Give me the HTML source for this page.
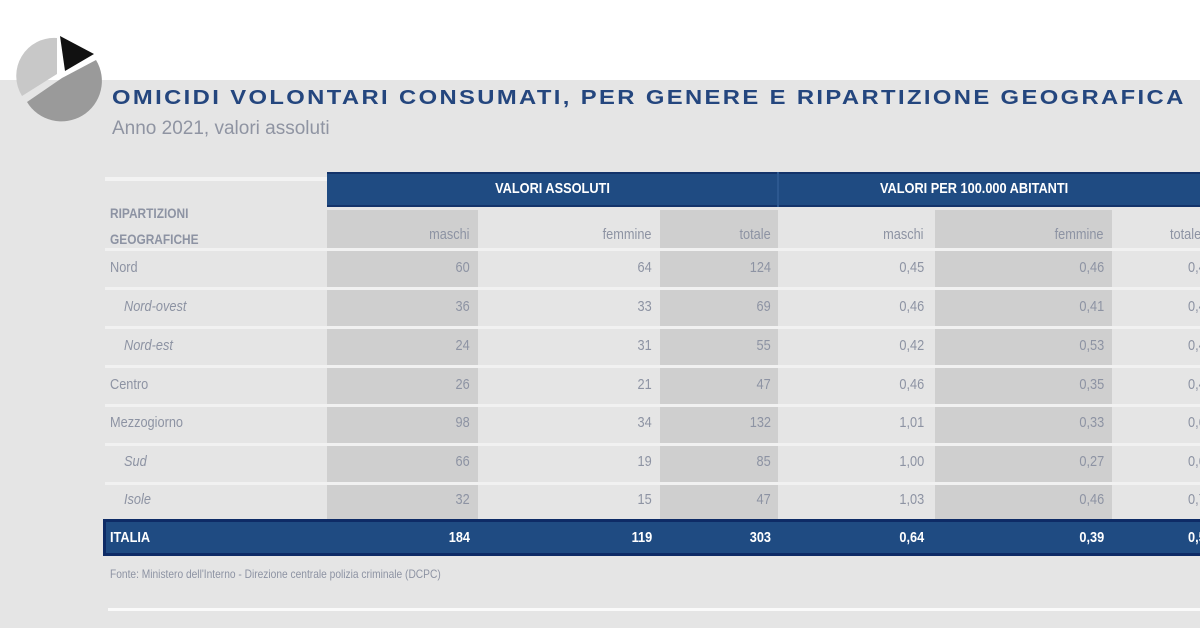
<!DOCTYPE html>
<html><head><meta charset="utf-8"><style>
*{margin:0;padding:0;box-sizing:border-box}
body{width:1200px;height:628px;overflow:hidden;background:#e5e5e5;position:relative;font-family:"Liberation Sans",sans-serif}
.a{position:absolute}
.t{position:absolute;font-size:15px;color:#8d93a3;transform:scaleX(.85);white-space:nowrap}
.r{transform-origin:right center;text-align:right}
.l{transform-origin:left center}
.sep{position:absolute;left:105px;width:1095px;height:3px;background:#f1f1f1}
.w{color:#fff;font-weight:bold}
</style></head><body>
<div class="a" style="left:0;top:0;width:1200px;height:80px;background:#fff"></div>
<svg class="a" style="left:10px;top:28px" width="92" height="96" viewBox="0 0 92 96">
<path d="M50 8 L84 26 L55 43 Z" fill="#111"/>
<path d="M47 46 L47 10 A38 38 0 0 0 12 68 Z" fill="#c8c8c8"/>
<path d="M52 50 L86 32 A38 38 0 0 1 17 74 Z" fill="#9a9a9a"/>
</svg>
<div class="a" style="left:112px;top:87px;font-size:20px;font-weight:bold;color:#24467e;letter-spacing:2px;white-space:nowrap;transform:scaleX(1.19);transform-origin:left center">OMICIDI VOLONTARI CONSUMATI, PER GENERE E RIPARTIZIONE GEOGRAFICA</div>
<div class="a" style="left:112px;top:118px;font-size:19px;color:#8f94a2;white-space:nowrap">Anno 2021, valori assoluti</div>

<div class="a" style="left:327px;top:172px;width:873px;height:35px;background:#1f4b82;border-top:2px solid #13336a;border-bottom:2px solid #13336a"></div>
<div class="a" style="left:777px;top:172px;width:2px;height:35px;background:#2c5890"></div>
<div class="a" style="left:105px;top:177px;width:222px;height:4px;background:#f3f3f3"></div>
<div class="t w" style="left:327px;width:451px;top:180px;text-align:center">VALORI ASSOLUTI</div>
<div class="t w l" style="left:880px;top:180px">VALORI PER 100.000 ABITANTI</div>

<div class="a" style="left:327px;top:210px;width:151px;height:310px;background:#cfcfcf"></div>
<div class="a" style="left:660px;top:210px;width:118px;height:310px;background:#cfcfcf"></div>
<div class="a" style="left:935px;top:210px;width:177px;height:310px;background:#cfcfcf"></div>

<div class="t l" style="left:110px;top:200px;font-size:14px;font-weight:bold;color:#8d93a3;line-height:26px">RIPARTIZIONI<br>GEOGRAFICHE</div>
<div class="t r" style="right:730px;top:226px">maschi</div>
<div class="t r" style="right:548px;top:226px">femmine</div>
<div class="t r" style="right:429px;top:226px">totale</div>
<div class="t r" style="right:276px;top:226px">maschi</div>
<div class="t r" style="right:96px;top:226px">femmine</div>
<div class="t l" style="left:1170px;top:226px">totale</div>

<div class="sep" style="top:248px"></div>
<div class="sep" style="top:287px"></div>
<div class="sep" style="top:326px"></div>
<div class="sep" style="top:365px"></div>
<div class="sep" style="top:404px"></div>
<div class="sep" style="top:443px"></div>
<div class="sep" style="top:482px"></div>

<div class="t l" style="left:110px;top:259px">Nord</div>
<div class="t l" style="left:124px;top:298px;font-style:italic">Nord-ovest</div>
<div class="t l" style="left:124px;top:337px;font-style:italic">Nord-est</div>
<div class="t l" style="left:110px;top:376px">Centro</div>
<div class="t l" style="left:110px;top:414px">Mezzogiorno</div>
<div class="t l" style="left:124px;top:453px;font-style:italic">Sud</div>
<div class="t l" style="left:124px;top:491px;font-style:italic">Isole</div>

<div class="t r" style="right:730px;top:259px">60</div><div class="t r" style="right:548px;top:259px">64</div><div class="t r" style="right:429px;top:259px">124</div><div class="t r" style="right:276px;top:259px">0,45</div><div class="t r" style="right:96px;top:259px">0,46</div><div class="t l" style="left:1188px;top:259px">0,45</div>
<div class="t r" style="right:730px;top:298px">36</div><div class="t r" style="right:548px;top:298px">33</div><div class="t r" style="right:429px;top:298px">69</div><div class="t r" style="right:276px;top:298px">0,46</div><div class="t r" style="right:96px;top:298px">0,41</div><div class="t l" style="left:1188px;top:298px">0,43</div>
<div class="t r" style="right:730px;top:337px">24</div><div class="t r" style="right:548px;top:337px">31</div><div class="t r" style="right:429px;top:337px">55</div><div class="t r" style="right:276px;top:337px">0,42</div><div class="t r" style="right:96px;top:337px">0,53</div><div class="t l" style="left:1188px;top:337px">0,47</div>
<div class="t r" style="right:730px;top:376px">26</div><div class="t r" style="right:548px;top:376px">21</div><div class="t r" style="right:429px;top:376px">47</div><div class="t r" style="right:276px;top:376px">0,46</div><div class="t r" style="right:96px;top:376px">0,35</div><div class="t l" style="left:1188px;top:376px">0,40</div>
<div class="t r" style="right:730px;top:414px">98</div><div class="t r" style="right:548px;top:414px">34</div><div class="t r" style="right:429px;top:414px">132</div><div class="t r" style="right:276px;top:414px">1,01</div><div class="t r" style="right:96px;top:414px">0,33</div><div class="t l" style="left:1188px;top:414px">0,67</div>
<div class="t r" style="right:730px;top:453px">66</div><div class="t r" style="right:548px;top:453px">19</div><div class="t r" style="right:429px;top:453px">85</div><div class="t r" style="right:276px;top:453px">1,00</div><div class="t r" style="right:96px;top:453px">0,27</div><div class="t l" style="left:1188px;top:453px">0,63</div>
<div class="t r" style="right:730px;top:491px">32</div><div class="t r" style="right:548px;top:491px">15</div><div class="t r" style="right:429px;top:491px">47</div><div class="t r" style="right:276px;top:491px">1,03</div><div class="t r" style="right:96px;top:491px">0,46</div><div class="t l" style="left:1188px;top:491px">0,74</div>

<div class="a" style="left:103px;top:519px;width:1097px;height:37px;background:#1f4b82;border:3px solid #0e2b66;border-right:none"></div>
<div class="t w l" style="left:110px;top:529px">ITALIA</div>
<div class="t w r" style="right:730px;top:529px">184</div><div class="t w r" style="right:548px;top:529px">119</div><div class="t w r" style="right:429px;top:529px">303</div><div class="t w r" style="right:276px;top:529px">0,64</div><div class="t w r" style="right:96px;top:529px">0,39</div><div class="t w l" style="left:1188px;top:529px">0,51</div>

<div class="t l" style="left:110px;top:567px;font-size:12px">Fonte: Ministero dell'Interno - Direzione centrale polizia criminale (DCPC)</div>
<div class="a" style="left:108px;top:608px;width:1092px;height:3px;background:#fafafa"></div>
</body></html>
